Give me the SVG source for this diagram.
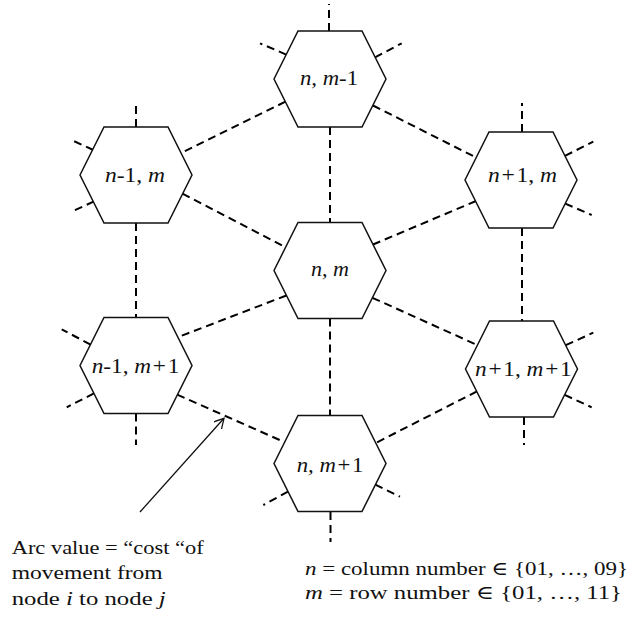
<svg xmlns="http://www.w3.org/2000/svg" width="633" height="621" viewBox="0 0 633 621">
  <style>
    .hex { fill: #fff; stroke: #111; stroke-width: 1.5; stroke-linejoin: miter; }
    .arc { stroke: #000; stroke-width: 2; stroke-dasharray: 8 5; fill: none; }
    .lbl { font-family: "Liberation Serif", "Times New Roman", serif; font-size: 20.5px; fill: #111; }
    .note { font-family: "Liberation Serif", "DejaVu Serif", serif; font-size: 19px; fill: #111; }
    .it { font-style: italic; }
  </style>
  <defs>
    <!-- flat-topped hexagon, centred on the origin -->
    <polygon id="hex" class="hex" points="-56,0 -32,-48 32,-48 56,0 32,48 -32,48"/>
    <marker id="open-arrow" viewBox="0 0 12 12" refX="10" refY="5.5" markerWidth="12" markerHeight="12" markerUnits="userSpaceOnUse" orient="auto">
      <path d="M0,0 L10,5.5 L0,11" fill="none" stroke="#111" stroke-width="1.3"/>
    </marker>
  </defs>

  <rect width="633" height="621" fill="#fff"/>

  <!-- dashed arcs between neighbouring cells, plus open stubs to outer cells -->
  <g id="connectors">
    <!-- vertical arcs -->
    <line class="arc" x1="330" y1="127" x2="330" y2="222.5"/>
    <line class="arc" x1="136" y1="223" x2="136" y2="317.5"/>
    <line class="arc" x1="522" y1="228" x2="522" y2="321"/>
    <line class="arc" x1="330" y1="318.5" x2="330" y2="415.5"/>
    <!-- diagonal arcs -->
    <line class="arc" x1="285.4" y1="101.7" x2="181" y2="153"/>
    <line class="arc" x1="373" y1="105.5" x2="477" y2="158"/>
    <line class="arc" x1="182.5" y1="193.7" x2="285.7" y2="247.3"/>
    <line class="arc" x1="476" y1="201" x2="373" y2="244.5"/>
    <line class="arc" x1="286.4" y1="295.5" x2="177.5" y2="337.3"/>
    <line class="arc" x1="372.5" y1="297.8" x2="477.6" y2="345.2"/>
    <line class="arc" x1="177.2" y1="394.7" x2="284.7" y2="442.2"/>
    <line class="arc" x1="476.9" y1="391.4" x2="375.7" y2="443"/>
    <!-- stubs -->
    <line class="arc" x1="329" y1="31" x2="329" y2="4"/>
    <line class="arc" x1="286.2" y1="54.6" x2="260" y2="43.3"/>
    <line class="arc" x1="375" y1="57.3" x2="401.7" y2="43.3"/>
    <line class="arc" x1="136" y1="127" x2="136" y2="102"/>
    <line class="arc" x1="93.3" y1="150" x2="70" y2="139.3"/>
    <line class="arc" x1="94" y1="201.4" x2="71.7" y2="211.7"/>
    <line class="arc" x1="522" y1="132" x2="522" y2="103"/>
    <line class="arc" x1="565" y1="155.8" x2="593.3" y2="141.7"/>
    <line class="arc" x1="565.2" y1="203.6" x2="591.7" y2="215"/>
    <line class="arc" x1="90.5" y1="344.6" x2="61.7" y2="329.3"/>
    <line class="arc" x1="93.9" y1="393.4" x2="66.7" y2="407.3"/>
    <line class="arc" x1="136" y1="413.5" x2="136" y2="445"/>
    <line class="arc" x1="565.8" y1="345.2" x2="593.3" y2="332.7"/>
    <line class="arc" x1="564.7" y1="394.9" x2="591.7" y2="407.3"/>
    <line class="arc" x1="524" y1="417" x2="524" y2="445"/>
    <line class="arc" x1="288" y1="491.7" x2="263.3" y2="505"/>
    <line class="arc" x1="375.3" y1="484.7" x2="400" y2="496.7"/>
    <line class="arc" x1="330.5" y1="512" x2="330.5" y2="542"/>
  </g>

  <!-- cells -->
  <g id="node-n-m-1" transform="translate(330,79)">
    <use href="#hex"/>
    <text class="lbl" x="-30" y="6" textLength="58" lengthAdjust="spacingAndGlyphs"><tspan class="it">n, m</tspan>-1</text>
  </g>
  <g id="node-n-1-m" transform="translate(136,175)">
    <use href="#hex"/>
    <text class="lbl" x="-31" y="6.7" textLength="60" lengthAdjust="spacingAndGlyphs"><tspan class="it">n</tspan>-1, <tspan class="it">m</tspan></text>
  </g>
  <g id="node-n+1-m" transform="translate(521,180)">
    <use href="#hex"/>
    <text class="lbl" x="-33" y="1.7" textLength="69" lengthAdjust="spacingAndGlyphs"><tspan class="it">n</tspan><tspan dx="1.5">+</tspan><tspan dx="1.5">1, </tspan><tspan class="it">m</tspan></text>
  </g>
  <g id="node-n-m" transform="translate(330,270.5)">
    <use href="#hex"/>
    <text class="lbl" x="-19" y="5.5" textLength="38" lengthAdjust="spacingAndGlyphs"><tspan class="it">n, m</tspan></text>
  </g>
  <g id="node-n-1-m+1" transform="translate(136,365.5)">
    <use href="#hex"/>
    <text class="lbl" x="-44.3" y="7.5" textLength="87.6" lengthAdjust="spacingAndGlyphs"><tspan class="it">n</tspan>-1, <tspan class="it">m</tspan><tspan dx="1.5">+</tspan><tspan dx="1.5">1</tspan></text>
  </g>
  <g id="node-n+1-m+1" transform="translate(521.5,369)">
    <use href="#hex"/>
    <text class="lbl" x="-46.5" y="7" textLength="96.7" lengthAdjust="spacingAndGlyphs"><tspan class="it">n</tspan><tspan dx="1.5">+</tspan><tspan dx="1.5">1, </tspan><tspan class="it">m</tspan><tspan dx="1.5">+</tspan><tspan dx="1.5">1</tspan></text>
  </g>
  <g id="node-n-m+1" transform="translate(330,463.5)">
    <use href="#hex"/>
    <text class="lbl" x="-33.3" y="8.2" textLength="66.6" lengthAdjust="spacingAndGlyphs"><tspan class="it">n, m</tspan><tspan dx="1.5">+</tspan><tspan dx="1.5">1</tspan></text>
  </g>

  <!-- annotation pointing at an arc -->
  <g id="arc-note">
    <line x1="140" y1="512" x2="224" y2="418.3" stroke="#111" stroke-width="1.3" marker-end="url(#open-arrow)"/>
    <text class="note" x="11.7" y="553.5" textLength="192" lengthAdjust="spacingAndGlyphs">Arc value = “cost “of</text>
    <text class="note" x="11.7" y="579" textLength="151" lengthAdjust="spacingAndGlyphs">movement from</text>
    <text class="note" x="11.7" y="604.5" textLength="154" lengthAdjust="spacingAndGlyphs">node <tspan class="it">i</tspan> to node <tspan class="it">j</tspan></text>
  </g>

  <g id="legend">
    <text class="note" x="305" y="575" textLength="323" lengthAdjust="spacingAndGlyphs"><tspan class="it">n</tspan> = column number ∈ {01, …, 09}</text>
    <text class="note" x="305" y="599.3" textLength="317" lengthAdjust="spacingAndGlyphs"><tspan class="it">m</tspan> = row number ∈ {01, …, 11}</text>
  </g>
</svg>
